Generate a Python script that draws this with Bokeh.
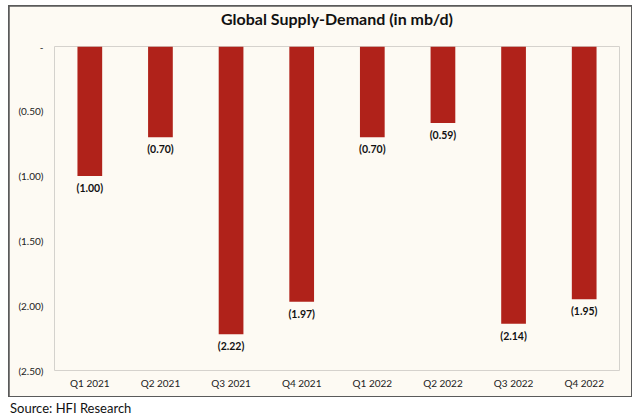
from bokeh.plotting import figure
from bokeh.models import ColumnDataSource, FixedTicker, Div, Title
from bokeh.layouts import column
from bokeh.core.properties import value
from bokeh.embed import file_html
from bokeh.resources import INLINE

quarters = ["Q1 2021", "Q2 2021", "Q3 2021", "Q4 2021", "Q1 2022", "Q2 2022", "Q3 2022", "Q4 2022"]
balance = [-1.00, -0.70, -2.22, -1.97, -0.70, -0.59, -2.14, -1.95]
y_ticks = [0, -0.5, -1.0, -1.5, -2.0, -2.5]
y_tick_labels = ["-", "(0.50)", "(1.00)", "(1.50)", "(2.00)", "(2.50)"]
chart_title = "Global Supply-Demand (in mb/d)"

labels = ["({:.2f})".format(abs(v)) for v in balance]
src = ColumnDataSource(dict(q=quarters, v=balance, lab=labels))

FONT = "Lato"
BG = "#fdfaf3"
W, H = 622, 390

p = figure(x_range=quarters, y_range=(-2.5, 0), width=W, height=H,
           output_backend="svg", toolbar_location=None,
           min_border_left=45, min_border_right=12, min_border_top=38, min_border_bottom=26)
p.margin = (1, 1, 1, 1)
p.background_fill_color = BG
p.border_fill_color = BG
p.outline_line_color = None

# spacer between title and frame (added first -> closest to frame)
p.add_layout(Title(text=" ", text_font=FONT, text_font_size="14px", standoff=0), "above")
p.add_layout(Title(text=chart_title, align="center", vertical_align="bottom", standoff=0,
                   text_font=FONT, text_font_size="16px", text_font_style="bold",
                   text_color="#111111"), "above")

p.vbar(x="q", top="v", bottom=0, width=0.35, source=src,
       fill_color="#b0221a", line_color=None)
p.text(x="q", y="v", text="lab", source=src, text_align="center", text_baseline="top",
       y_offset=6, text_font=value(FONT), text_font_size="10.5px", text_font_style="bold",
       text_color="#111111")

p.xgrid.grid_line_color = None
p.ygrid.grid_line_color = None

p.yaxis.ticker = FixedTicker(ticks=y_ticks)
p.yaxis.major_label_overrides = {t: l for t, l in zip(y_ticks, y_tick_labels)}
for ax in (p.xaxis, p.yaxis):
    ax.axis_line_color = None
    ax.major_tick_line_color = None
    ax.minor_tick_line_color = None
    ax.major_tick_out = 0
    ax.major_label_text_font = FONT
    ax.major_label_text_font_size = "10px"
    ax.major_label_text_color = "#222222"
p.yaxis.major_label_standoff = 11
p.xaxis.major_label_standoff = 6

framed = column(p, margin=(5, 0, 0, 8), spacing=0,
                styles={"background-color": "#5a5a5a"})

src_div = Div(text="Source: HFI Research", margin=(2, 0, 0, 10),
              styles={"font-family": FONT, "font-size": "13px", "color": "#111111"})

layout = column(framed, src_div, spacing=0)
open("out.html", "w").write(file_html(layout, INLINE))
